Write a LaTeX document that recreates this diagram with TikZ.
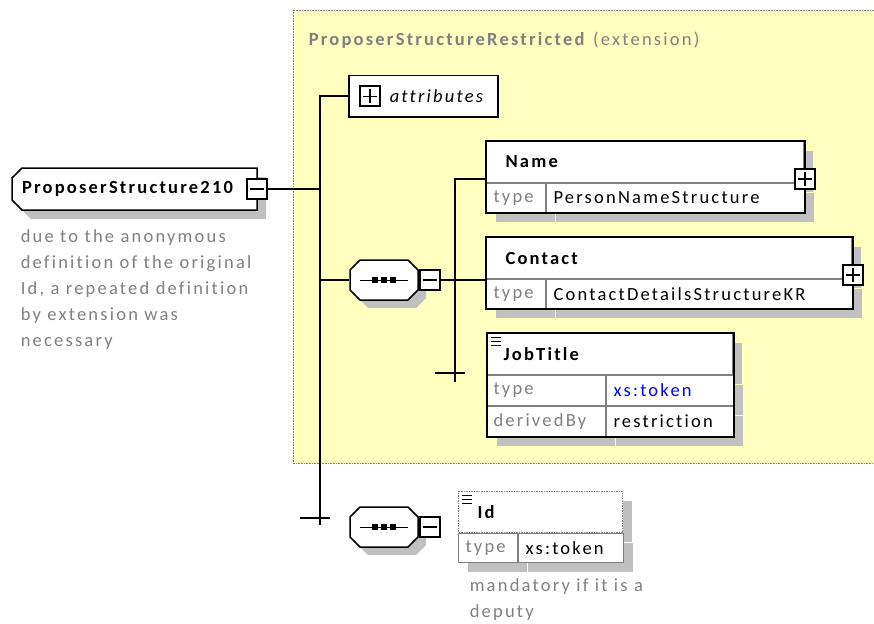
\documentclass[tikz,border=0pt]{standalone}
\usepackage{fontspec}
\setmainfont[LetterSpace=12,Ligatures=NoCommon]{Carlito}
\usepackage{tikz}
\usetikzlibrary{calc,positioning,shadows}
\definecolor{schemaYellow}{RGB}{255,255,192}
\definecolor{shadowGray}{RGB}{192,192,192}
\definecolor{noteGray}{RGB}{128,128,128}
\definecolor{typeBlue}{RGB}{0,0,255}
% outline with cut corners: half width, half height, left cut, right cut
\newcommand\chamfershape[4]{(-#1+#3,-#2) -- (#1-#4,-#2) -- (#1,-#2+#4) -- (#1,#2-#4)
  -- (#1-#4,#2) -- (-#1+#3,#2) -- (-#1,#2-#3) -- (-#1,-#2+#3) -- cycle}

\begin{document}
\begin{tikzpicture}[x=1pt,y=-1pt,line width=1.5pt,
  font=\fontsize{18.5}{26}\selectfont,
  boxshadow/.style={drop shadow={shadow xshift=9pt,shadow yshift=-9pt,fill=shadowGray,opacity=1,draw=none}},
  elemhd/.style={draw=gray,line width=1pt,fill=white,anchor=north west,minimum height=41pt,
    inner sep=0pt,align=left,font=\fontsize{18.5}{20}\selectfont\bfseries,boxshadow},
  cell/.style={draw=gray,line width=1pt,fill=white,anchor=north west,minimum height=29pt,
    inner sep=0pt,align=left,boxshadow},
  celltag/.style={cell,text=noteGray},
  elemline/.style={line width=2pt},
  simpleicon/.style={path picture={
    \foreach \k in {4,8,12}
      \draw[solid,black,line width=1.4pt] ([shift={(3pt,-\k pt)}]path picture bounding box.north west) -- ++(10pt,0);}},
  minusbox/.style={draw,line width=2.4pt,fill=white,minimum size=20pt,inner sep=0pt,
    path picture={\draw[line width=1.2pt] ([xshift=3pt]path picture bounding box.west)
      -- ([xshift=-3pt]path picture bounding box.east);}},
  plusbox/.style={minusbox,path picture={
    \draw[line width=1.2pt] ([xshift=3pt]path picture bounding box.west) -- ([xshift=-3pt]path picture bounding box.east);
    \draw[line width=1.2pt] ([yshift=3pt]path picture bounding box.south) -- ([yshift=-3pt]path picture bounding box.north);}},
  note/.style={anchor=north west,inner sep=0pt,align=left,text=noteGray}]

  \useasboundingbox (0,0) rectangle (874,623);

  % extension area
  \draw[fill=schemaYellow,draw=gray,line width=0.6pt,densely dotted] (293,10) rectangle (880,463);
  \node[anchor=west,inner sep=0pt,text=noteGray] (ext) at (308,40)
    {\textbf{ProposerStructureRestricted} (extension)};

  % root element
  \begin{scope}[shift={(134.5,189)}]
    \fill[shadowGray,shift={(9,9)}] \chamfershape{122.5}{21}{10}{0};
    \draw[fill=white] \chamfershape{122.5}{21}{10}{0};
    \node[inner sep=0pt,text width=225pt,align=left,font=\fontsize{18.5}{20}\selectfont\bfseries] (root) at (0,0)
      {ProposerStructure210};
    \node[minusbox] (rootm) at (122.5,0) {};
  \end{scope}
  \node[note] (rootnote) at (20,229) {due to the anonymous\\definition of the original\\Id, a repeated definition\\by extension was\\necessary};

  % attributes
  \node[draw,line width=1.5pt,fill=white,anchor=north west,minimum height=41pt,inner sep=0pt,
    text width=149pt,align=left] (attr) at (348,75) {\hspace*{41pt}\textit{attributes}};
  \node[plusbox] (attrpl) at ([xshift=22pt]attr.west) {};

  % sequences
  \foreach \n/\y in {seq1/280,seq2/527}{
    \begin{scope}[shift={(384,\y)}]
      \fill[shadowGray,shift={(8,8)}] \chamfershape{34}{20}{10}{10};
      \draw[fill=white] \chamfershape{34}{20}{10}{10};
      \node[minimum width=68pt,minimum height=40pt,inner sep=0pt] (\n) at (0,0) {};
      \draw[line width=1pt] (-24,0) -- (24,0);
      \foreach \k in {-9,0,9}
        \fill (\k-3,-3) rectangle (\k+3,3);
      \node[minusbox,anchor=west] (\n m) at (\n.east) {};
    \end{scope}
  }

  % Name
  \node[elemhd,text width=317pt] (namehd) at (486,141) {\hspace*{19pt}Name};
  \node[celltag,text width=59pt] (namety) at (namehd.south west) {\hspace*{7pt}type};
  \node[cell,text width=258pt] (nameval) at (namety.north east) {\hspace*{7pt}PersonNameStructure};
  \draw[elemline] (namehd.north west) rectangle (nameval.south east);
  \node[plusbox] (namepl) at ([yshift=4pt]nameval.north east) {};

  % Contact
  \node[elemhd,text width=365pt] (conthd) at (486,237) {\hspace*{19pt}Contact};
  \node[celltag,text width=59pt] (contty) at (conthd.south west) {\hspace*{7pt}type};
  \node[cell,text width=306pt] (contval) at (contty.north east) {\hspace*{7pt}ContactDetailsStructureKR};
  \draw[elemline] (conthd.north west) rectangle (contval.south east);
  \node[plusbox] (contpl) at ([yshift=4pt]contval.north east) {};

  % JobTitle
  \node[elemhd,simpleicon,text width=245pt] (jobhd) at (487,333) {\hspace*{16pt}JobTitle};
  \node[celltag,text width=118pt,minimum height=30pt] (jobty) at (jobhd.south west) {\hspace*{6pt}type};
  \node[cell,text width=127pt,minimum height=30pt,text=typeBlue] (jobval) at (jobty.north east) {\hspace*{7pt}xs:token};
  \node[celltag,text width=118pt,minimum height=30pt] (jobdb) at (jobty.south west) {\hspace*{6pt}derivedBy};
  \node[cell,text width=127pt,minimum height=30pt] (jobrs) at (jobdb.north east) {\hspace*{7pt}restriction};
  \draw[elemline] (jobhd.north west) rectangle (jobrs.south east);

  % Id
  \node[elemhd,simpleicon,dash pattern=on 1.5pt off 1pt,text width=164pt] (idhd) at (458,491) {\hspace*{19pt}Id};
  \node[celltag,text width=59pt] (idty) at (idhd.south west) {\hspace*{7pt}type};
  \node[cell,text width=105pt] (idval) at (idty.north east) {\hspace*{7pt}xs:token};
  \node[note] (idnote) at (469,578) {mandatory if it is a\\deputy};

  % connectors
  \coordinate (stopA) at (320,518);
  \coordinate (stopB) at (455,373);
  \draw (attr.west) -| ([yshift=-7pt]stopA);
  \draw (rootm.east) -- (rootm.east -| stopA);
  \draw (seq1.west) -- (seq1.west -| stopA);
  \draw ([yshift=4pt]namehd.south west) -| ([yshift=-9pt]stopB);
  \draw (seq1m.east) -- (seq1m.east -| conthd.west);
  \foreach \s in {stopA,stopB}
    \draw ([xshift=-20pt]\s) -- ([xshift=10pt]\s);
\end{tikzpicture}
\end{document}
